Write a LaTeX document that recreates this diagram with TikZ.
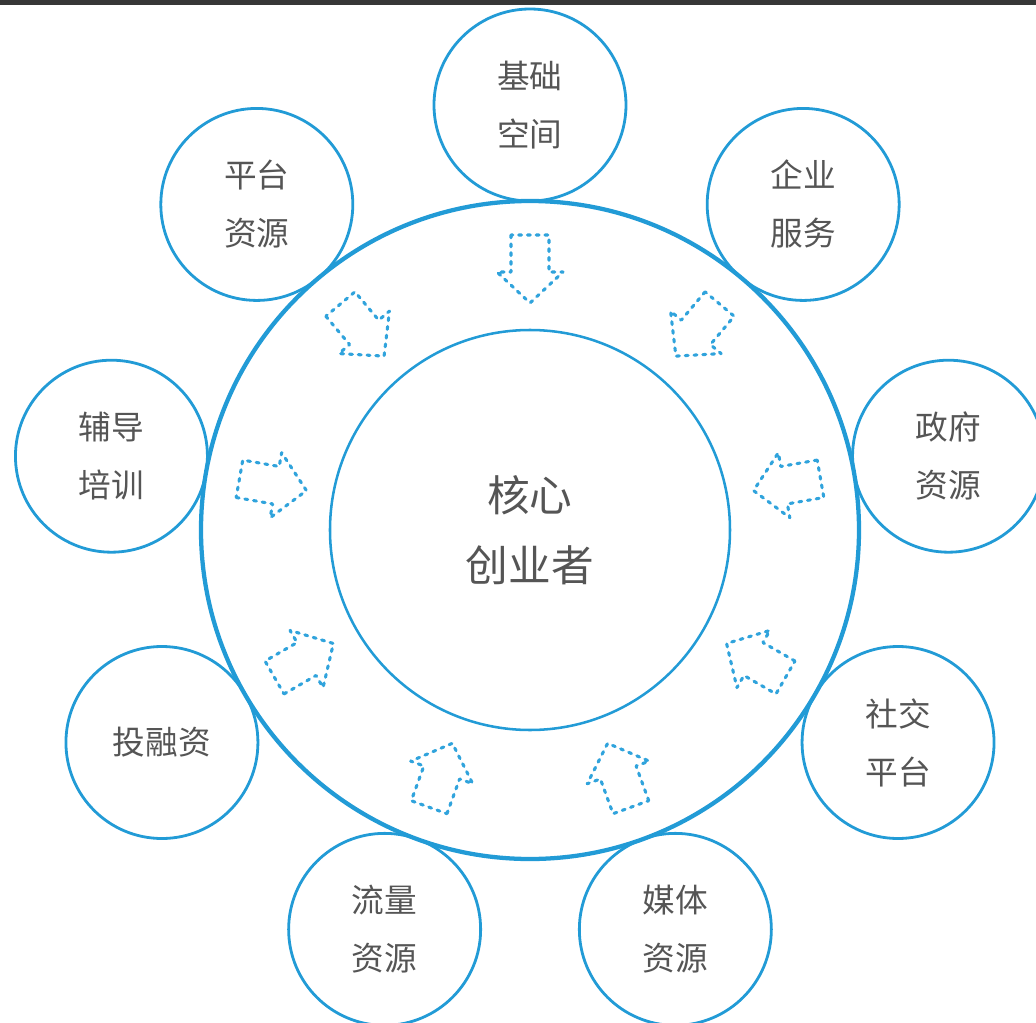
\documentclass[tikz,border=0pt]{standalone}
\usepackage{fontspec}
\newfontfamily\cjk{Noto Sans CJK SC}
\definecolor{cblue}{RGB}{34,155,214}
\definecolor{ablue}{RGB}{48,163,220}
\definecolor{tgray}{RGB}{85,85,85}
\definecolor{barc}{RGB}{55,55,55}
\begin{document}
\begin{tikzpicture}[x=0.75pt,y=0.75pt,
  sat/.style={circle,draw=cblue,line width=2.1pt,minimum size=144pt,inner sep=0pt,
    align=center,text=tgray,font=\cjk\fontsize{24.5pt}{43.5pt}\selectfont},
  core/.style={circle,draw=cblue,line width=1.9pt,minimum size=300pt,inner sep=0pt,
    align=center,text=tgray,font=\cjk\fontsize{32pt}{52.5pt}\selectfont},
  ring/.style={circle,draw=cblue,line width=3.2pt,minimum size=493.5pt,inner sep=0pt},
  inarrow/.style={draw=ablue,line width=2.3pt,dash pattern=on 2.2pt off 4.4pt,line cap=round,line join=round}]
\useasboundingbox (-530,-492) rectangle (506,530);
\fill[barc] (-530,530) rectangle (506,525);
\node[ring] (ring) at (0,0) {};
\node[core] (core) at (0,0) {核心\\创业者};
\node[sat] (jichu) at (90:425) {基础\\空间};
\node[sat] (qiye) at (50:425) {企业\\服务};
\node[sat] (zhengfu) at (10:425) {政府\\资源};
\node[sat] (shejiao) at (-30:425) {社交\\平台};
\node[sat] (meiti) at (-70:425) {媒体\\资源};
\node[sat] (liuliang) at (-110:425) {流量\\资源};
\node[sat] (tourong) at (-150:425) {投融资};
\node[sat] (fudao) at (170:425) {辅导\\培训};
\node[sat] (pingtai) at (130:425) {平台\\资源};
\foreach \a in {90,50,10,-30,-70,-110,-150,170,130}{
  \draw[inarrow,rotate=\a] (295,19) -- (258,19) -- (258,33) -- (227,0) -- (258,-33) -- (258,-19) -- (295,-19) -- cycle;
}
\end{tikzpicture}
\end{document}
